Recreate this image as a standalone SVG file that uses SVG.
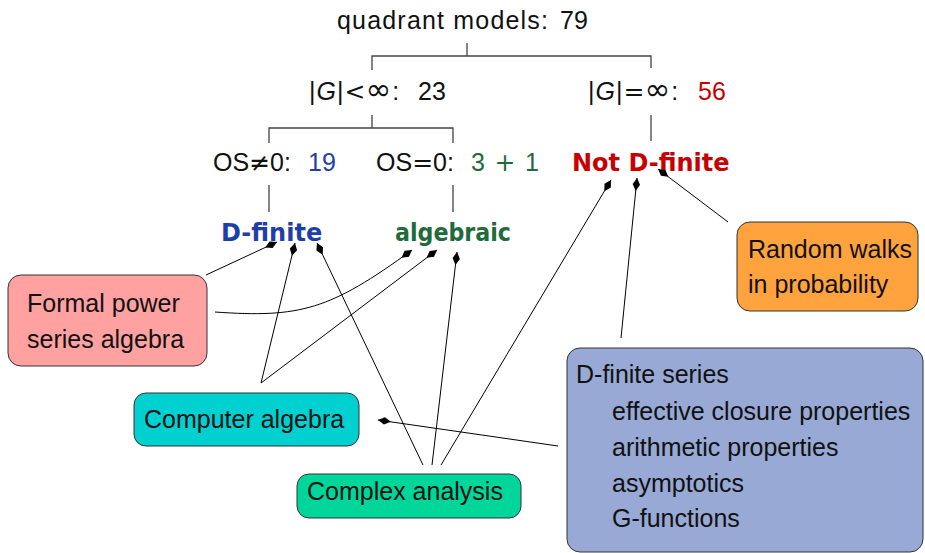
<svg xmlns="http://www.w3.org/2000/svg" width="925" height="553" viewBox="0 0 925 553">
<style>
.t{font-family:"Liberation Sans",Arial,sans-serif;font-size:25px;fill:#111}
.m{font-family:"DejaVu Sans",sans-serif}
.inf{font-family:"DejaVu Sans",sans-serif;font-size:31px}
.b{font-family:"DejaVu Sans",sans-serif;font-weight:bold;font-size:24px}
.tree{stroke:#444;stroke-width:1.3;fill:none}
.arr{stroke:#000;stroke-width:1;fill:none;marker-end:url(#dia)}
.box{stroke:#333;stroke-width:1}
.blue{fill:#1f3fa8}.green{fill:#1f6b3b}.red{fill:#c80000}
</style>
<defs>
<marker id="dia" markerUnits="userSpaceOnUse" viewBox="-14 -5 15 10" refX="0" refY="0" markerWidth="15" markerHeight="10" orient="auto" overflow="visible">
<path d="M0,0 L-6.5,-3.7 L-13,0 L-6.5,3.7 Z" fill="#000"/>
</marker>
</defs>
<rect width="925" height="553" fill="#fff"/>

<g id="tree-lines">
<path class="tree" d="M467,43 V56 M372,70 V56 H651 V68 M372,115 V128 M269,143 V128 H453 V143 M269,185 V212 M453,185 V212 M651,115 V141"/>
</g>

<g id="root">
<text class="t" x="337" y="29" textLength="211" lengthAdjust="spacing">quadrant models:</text>
<text class="t" x="560" y="29">79</text>
</g>
<g id="finite-group">
<text class="t" x="309" y="100">|<tspan font-style="italic" dx="1">G</tspan><tspan dx="1">|</tspan><tspan class="m" dx="1">&lt;</tspan><tspan class="inf">∞</tspan><tspan dx="1">:</tspan></text>
<text class="t" x="418" y="100">23</text>
</g>
<g id="infinite-group">
<text class="t" x="588" y="100">|<tspan font-style="italic" dx="1">G</tspan><tspan dx="1">|</tspan><tspan class="m" dx="1">=</tspan><tspan class="inf">∞</tspan><tspan dx="1">:</tspan></text>
<text class="t red" x="698" y="100">56</text>
</g>
<g id="os-nonzero">
<text class="t" x="213" y="171">OS<tspan class="m">≠</tspan>0:</text>
<text class="t blue" x="308" y="171">19</text>
</g>
<g id="os-zero">
<text class="t" x="376" y="171">OS<tspan class="m">=</tspan>0:</text>
<text class="t green" x="471" y="171" textLength="68" lengthAdjust="spacing">3 <tspan class="m">+</tspan> 1</text>
</g>
<g id="not-dfinite"><text class="b red" x="572" y="171">Not D-finite</text></g>
<g id="dfinite"><text class="b blue" x="221" y="241">D-finite</text></g>
<g id="algebraic"><text class="b green" x="395" y="241" textLength="116" lengthAdjust="spacingAndGlyphs">algebraic</text></g>

<g id="formal-power-series">
<rect class="box" x="8" y="275" width="199" height="91" rx="13" fill="#ffa1a1"/>
<text class="t" x="27" y="312">Formal power</text>
<text class="t" x="27" y="348">series algebra</text>
</g>
<g id="computer-algebra">
<rect class="box" x="134" y="393" width="225" height="53" rx="12" fill="#00d0d0"/>
<text class="t" x="144" y="428">Computer algebra</text>
</g>
<g id="complex-analysis">
<rect class="box" x="297" y="474" width="224" height="44" rx="12" fill="#00d69a"/>
<text class="t" x="307" y="500">Complex analysis</text>
</g>
<g id="random-walks">
<rect class="box" x="737" y="222" width="181" height="89" rx="13" fill="#ffa33f"/>
<text class="t" x="748" y="258">Random walks</text>
<text class="t" x="748" y="293">in probability</text>
</g>
<g id="dfinite-series">
<rect class="box" x="567" y="348" width="356" height="204" rx="13" fill="#97a9d4"/>
<text class="t" x="576" y="383">D-finite series</text>
<text class="t" x="612" y="420">effective closure properties</text>
<text class="t" x="612" y="456">arithmetic properties</text>
<text class="t" x="612" y="492">asymptotics</text>
<text class="t" x="612" y="527">G-functions</text>
</g>

<g id="connectors">
<path class="arr" d="M206,275 L277,242"/>
<path class="arr" d="M215,312 C300,318 330,310 412,250"/>
<path class="arr" d="M261,383 L295,243"/>
<path class="arr" d="M261,383 L437,250"/>
<path class="arr" d="M423,465 L317,243"/>
<path class="arr" d="M432,465 L457,252"/>
<path class="arr" d="M441,465 L611,180"/>
<path class="arr" d="M621,338 L637,178"/>
<path class="arr" d="M728,222 L658,169"/>
<path class="arr" d="M558,446 L378,420"/>
</g>
</svg>
